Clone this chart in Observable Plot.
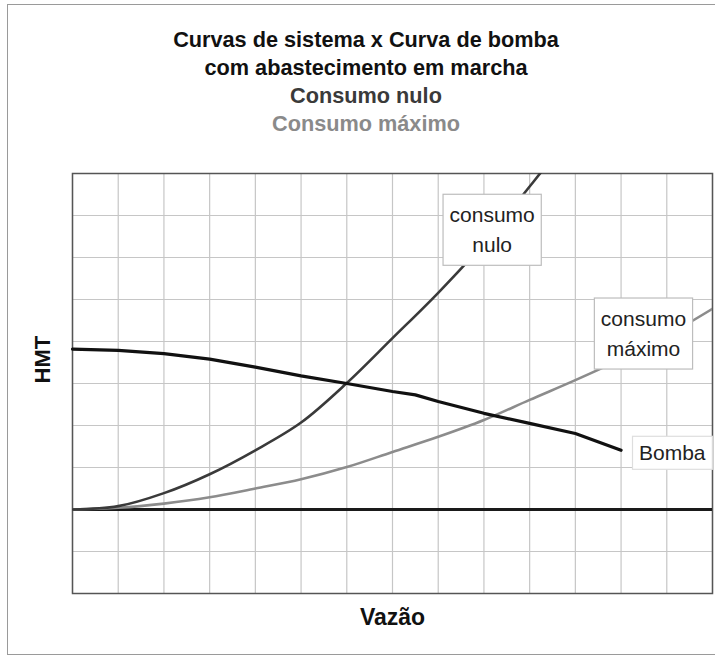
<!DOCTYPE html>
<html><head><meta charset="utf-8">
<script src="https://cdn.jsdelivr.net/npm/d3@7"></script>
<script src="https://cdn.jsdelivr.net/npm/@observablehq/plot@0.6"></script>
<style>
html,body{margin:0;padding:0;background:#fff;}
body{width:715px;height:658px;overflow:hidden;position:relative;font-family:"Liberation Sans",Arial,Helvetica,sans-serif;}
#frame{position:absolute;left:7px;top:4px;width:740px;height:651px;border:1.5px solid #9a9a9a;box-sizing:border-box;}
#title{position:absolute;left:0;top:26px;width:732px;text-align:center;font-weight:bold;font-size:21.7px;line-height:28px;}
#chart{position:absolute;left:0;top:150px;}
</style></head><body>
<div id="frame"></div>
<div id="title">
<div style="color:#111">Curvas de sistema x Curva de bomba</div>
<div style="color:#111">com abastecimento em marcha</div>
<div style="color:#3a3a3a">Consumo nulo</div>
<div style="color:#8a8a8a">Consumo máximo</div>
</div>
<div id="chart"></div>
<script>
// Curva da bomba
const vazaoBomba = [0, 1, 2, 3, 4, 5, 6, 7, 7.5, 8, 9, 10, 11, 12];
const hmtBomba   = [3.82, 3.79, 3.71, 3.58, 3.39, 3.18, 3.0, 2.81, 2.73, 2.57, 2.29, 2.05, 1.81, 1.41];
// Curva de sistema - consumo nulo
const vazaoNulo = [0, 1, 2, 3, 4, 5, 6, 7, 8, 9, 10, 10.3];
const hmtNulo   = [0, 0.08, 0.39, 0.84, 1.41, 2.07, 3.01, 4.08, 5.16, 6.34, 7.69, 8.1];
// Curva de sistema - consumo máximo
const vazaoMaximo = [0, 1, 2, 3, 4, 5, 6, 7, 8, 9, 10, 11, 12, 13, 14];
const hmtMaximo   = [0, 0.04, 0.14, 0.29, 0.5, 0.72, 1.01, 1.37, 1.73, 2.13, 2.61, 3.08, 3.58, 4.14, 4.78];
// Grade
const gridVazao = [0, 1, 2, 3, 4, 5, 6, 7, 8, 9, 10, 11, 12, 13, 14];
const gridHmt   = [-2, -1, 0, 1, 2, 3, 4, 5, 6, 7, 8];
// Rótulos
const labelText = ["consumo\nnulo", "consumo\nmáximo", "Bomba"];
const labelX    = [9.18, 12.49, 13.12];
const labelY    = [6.71, 4.24, 1.40];

const bomba  = vazaoBomba.map((x, i) => ({x, y: hmtBomba[i]}));
const nulo   = vazaoNulo.map((x, i) => ({x, y: hmtNulo[i]}));
const maximo = vazaoMaximo.map((x, i) => ({x, y: hmtMaximo[i]}));
const labels = labelText.map((t, i) => ({t, x: labelX[i], y: labelY[i]}));

const chart = Plot.plot({
  width: 715,
  height: 508,
  marginLeft: 72,
  marginRight: 3,
  marginTop: 23,
  marginBottom: 65,
  style: {fontFamily: "Liberation Sans, Arial, Helvetica, sans-serif", background: "transparent", overflow: "visible"},
  x: {domain: [0, 14], axis: null},
  y: {domain: [-2, 8], axis: null},
  marks: [
    Plot.ruleX(gridVazao, {stroke: "#c6c6c6", strokeWidth: 1.2}),
    Plot.ruleY(gridHmt, {stroke: "#c6c6c6", strokeWidth: 1.2}),
    Plot.frame({stroke: "#555", strokeWidth: 1.5}),
    Plot.ruleY([0], {stroke: "#1a1a1a", strokeWidth: 3}),
    Plot.line(maximo, {x: "x", y: "y", stroke: "#8c8c8c", strokeWidth: 2.6, curve: "catmull-rom", clip: true}),
    Plot.line(nulo, {x: "x", y: "y", stroke: "#3a3a3a", strokeWidth: 2.6, curve: "catmull-rom", clip: true}),
    Plot.line(bomba, {x: "x", y: "y", stroke: "#111", strokeWidth: 3.2}),
    Plot.text(labels, {x: "x", y: "y", text: "t", fontSize: 21, lineHeight: 1.43, fill: "#222", textAnchor: "middle", lineAnchor: "middle"}),
    Plot.text(["Vazão"], {text: d => d, frameAnchor: "bottom", dy: 24, lineAnchor: "middle", fontSize: 23, fontWeight: "bold", fill: "#111"}),
    Plot.text(["HMT"], {text: d => d, frameAnchor: "left", dx: -30, rotate: -90, lineAnchor: "middle", fontSize: 22, fontWeight: "bold", fill: "#111"})
  ]
});
document.getElementById("chart").appendChild(chart);

// caixas brancas atrás dos rótulos
const wanted = new Set(labelText.map(t => t.replace("\n", "")));
chart.querySelectorAll("text").forEach(t => {
  if (!wanted.has(t.textContent)) return;
  const b = t.getBBox();
  const multi = t.querySelectorAll("tspan").length > 1;
  const px = 6.5, py = multi ? 9 : 5;
  const r = document.createElementNS("http://www.w3.org/2000/svg", "rect");
  r.setAttribute("x", b.x - px);
  r.setAttribute("y", b.y - py);
  r.setAttribute("width", b.width + 2 * px);
  r.setAttribute("height", b.height + 2 * py);
  r.setAttribute("fill", "#fff");
  r.setAttribute("stroke", multi ? "#bdbdbd" : "#dedede");
  r.setAttribute("stroke-width", 1.2);
  if (t.getAttribute("transform")) r.setAttribute("transform", t.getAttribute("transform"));
  t.parentNode.insertBefore(r, t);
});
</script>
</body></html>
